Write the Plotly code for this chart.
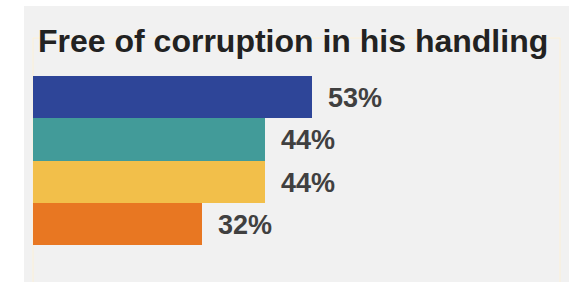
import plotly.graph_objects as go

title_text = "Free of corruption in his handling"
categories = ["Group 1", "Group 2", "Group 3", "Group 4"]
values = [53, 44, 44, 32]
colors = ["#2e4598", "#429b99", "#f2bf4a", "#e87722"]

W, H = 578, 282
ml, mr, mt, mb = 33, 18, 38, 0
plot_h = H - mt - mb
plot_w = W - ml - mr

fig = go.Figure()
fig.add_trace(go.Bar(
    y=categories, x=values, orientation="h",
    marker=dict(color=colors, line=dict(width=0)),
    hoverinfo="skip", showlegend=False,
))

for c, v in zip(categories, values):
    fig.add_annotation(
        x=v, y=c, xref="x", yref="y", text=f"<b>{v}%</b>",
        showarrow=False, xanchor="left", yanchor="middle", xshift=14, yshift=-1,
        font=dict(family="Liberation Sans, Arial", size=27, color="#404040"),
    )

fig.add_annotation(
    x=(36 - ml) / plot_w, y=(H - mb - 41) / plot_h, xref="paper", yref="paper",
    text=f"<b>{title_text}</b>", showarrow=False, xanchor="left", yanchor="middle",
    font=dict(family="Liberation Sans, Arial", size=32, color="#222222"),
)

# grey panel
fig.add_shape(type="rect", xref="paper", yref="paper",
              x0=(24 - ml) / plot_w, x1=(569 - ml) / plot_w,
              y0=-0.1, y1=(H - mb - 6) / plot_h,
              fillcolor="#f1f1f1", line=dict(width=0), layer="below")
# faint plot-area border
fig.add_shape(type="rect", xref="paper", yref="paper",
              x0=0, x1=1, y0=-0.05, y1=1,
              fillcolor="rgba(0,0,0,0)", line=dict(width=1, color="#fcf0d6"), layer="below")

fig.update_layout(
    width=W, height=H,
    margin=dict(l=ml, r=mr, t=mt, b=mb, pad=0),
    paper_bgcolor="white", plot_bgcolor="rgba(0,0,0,0)",
    bargap=0,
    xaxis=dict(range=[0, 100], visible=False, fixedrange=True),
    yaxis=dict(type="category", categoryorder="array", categoryarray=categories,
               range=[4.375, -1.4], visible=False, fixedrange=True),
)

fig.write_html("out.html", config={"displayModeBar": False, "staticPlot": True},
               post_script="document.body.style.margin='0';document.body.style.overflow='hidden';")
